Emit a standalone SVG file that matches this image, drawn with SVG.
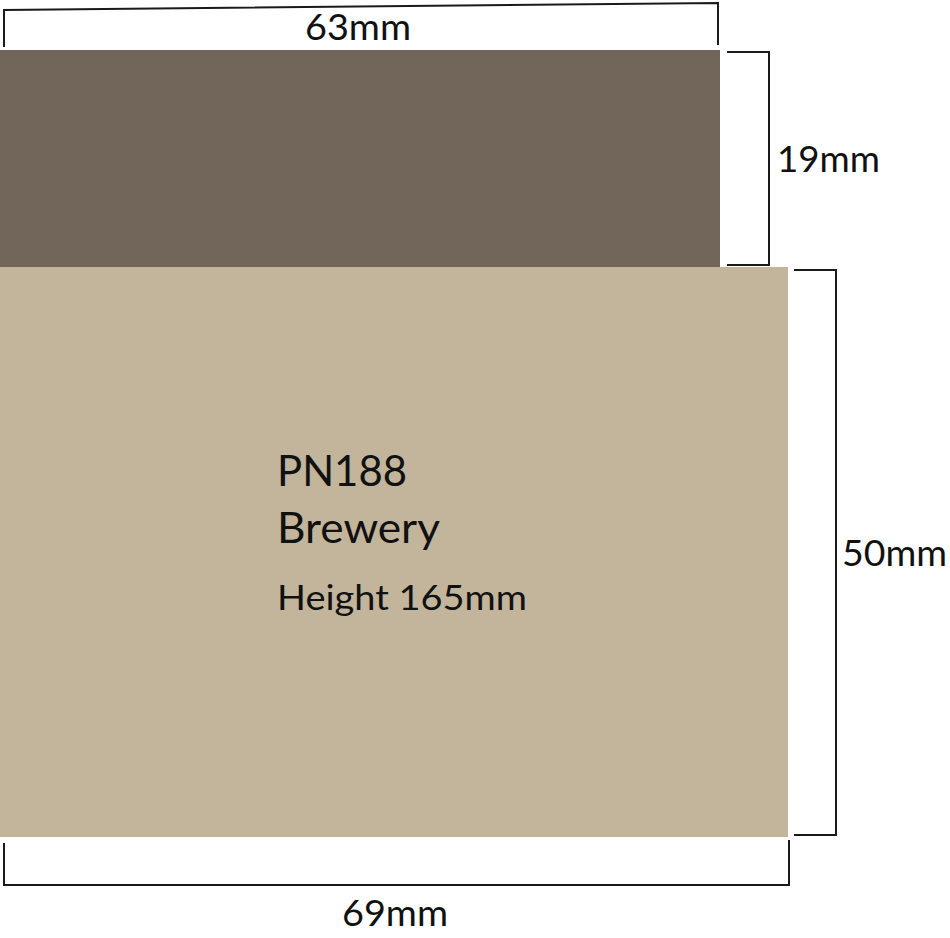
<svg xmlns="http://www.w3.org/2000/svg" width="950" height="938" viewBox="0 0 950 938">
<style>
.dim{fill:none;stroke:#1a1a1a;stroke-width:2}
text{font-family:Lato,"Open Sans",sans-serif;fill:#111}
.d{font-size:37px}
</style>
<rect x="0" y="0" width="950" height="938" fill="#fff"/>
<g id="top-band"><rect x="0" y="50" width="720" height="217" fill="#716659"/></g>
<g id="body"><rect x="0" y="267" width="788" height="570" fill="#c2b59b"/>
<text x="277" y="486" font-size="42" textLength="130" lengthAdjust="spacingAndGlyphs">PN188</text>
<text x="277" y="543" font-size="42" textLength="163" lengthAdjust="spacingAndGlyphs">Brewery</text>
<text x="277" y="610" font-size="35" textLength="250" lengthAdjust="spacingAndGlyphs">Height 165mm</text>
</g>
<g id="dimensions">
<path class="dim" d="M4,47 V10 L718,3 V45"/>
<path class="dim" d="M727,52 H769 V265 H727"/>
<path class="dim" d="M794,270 H836 V835 H794"/>
<path class="dim" d="M4,843 V885 H789 V840"/>
</g>
<g id="labels">
<text class="d" x="305" y="40" textLength="106" lengthAdjust="spacingAndGlyphs">63mm</text>
<text class="d" x="777" y="172" textLength="103" lengthAdjust="spacingAndGlyphs">19mm</text>
<text class="d" x="842" y="566" textLength="105" lengthAdjust="spacingAndGlyphs">50mm</text>
<text class="d" x="342" y="926" textLength="106" lengthAdjust="spacingAndGlyphs">69mm</text>
</g>
</svg>
